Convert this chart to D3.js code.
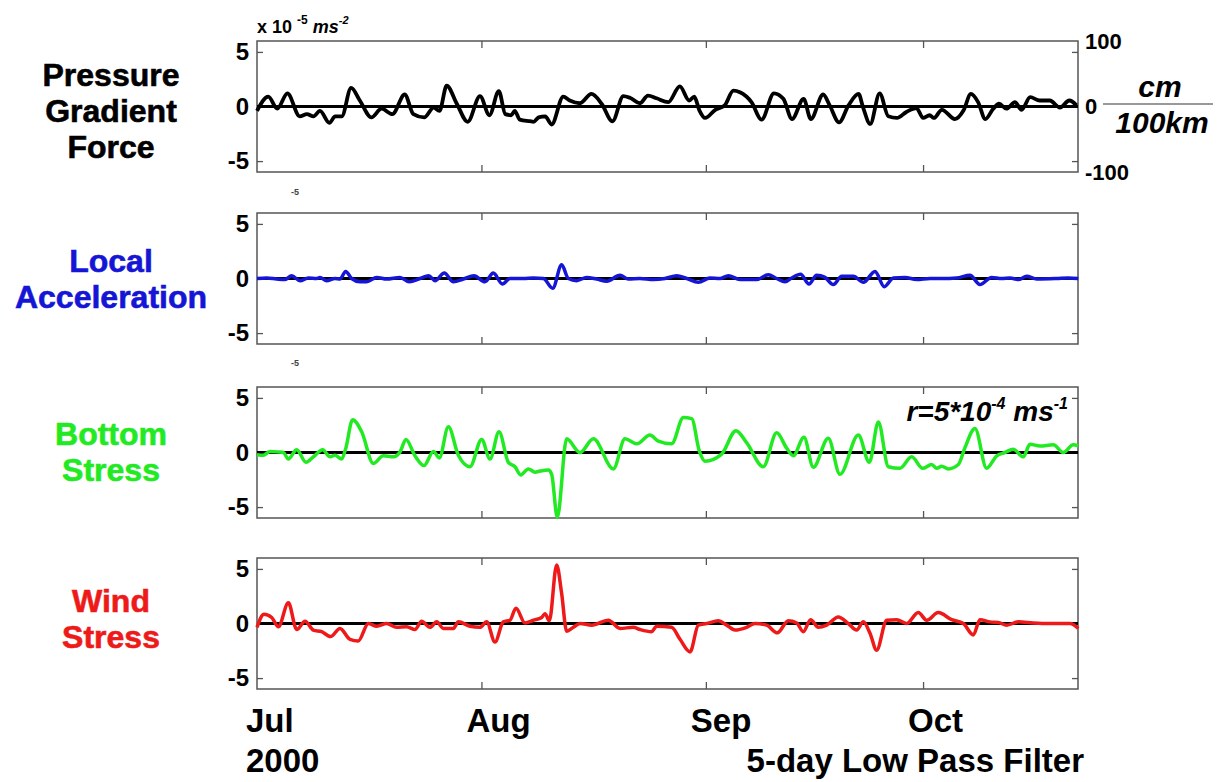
<!DOCTYPE html>
<html>
<head>
<meta charset="utf-8">
<script src="https://cdn.jsdelivr.net/npm/d3@7"></script>
<style>
  body { margin: 0; background: #fff; }
  text { font-family: "Liberation Sans", Arial, sans-serif; font-weight: bold; }
</style>
</head>
<body>
<div id="chart"></div>
<script>
// days since 1 Jul 2000, value in 1e-5 m s^-2
const pressureGradient = [
  [0,-0.4],[1.56,0.9],[2.8,-0.2],[4.2,1.2],[5.9,-0.9],[6.9,-0.7],[7.8,-0.9],[8.7,-0.4],[10.0,-1.5],[10.8,-0.9],
  [11.7,-0.9],[13.0,1.7],[14.2,0.55],[15.8,-1.0],[17.2,-0.2],[18.7,-0.7],[20.4,1.1],[21.6,-0.7],[23.1,-1.0],[24.4,-0.1],
  [25.2,-0.4],[26.2,1.9],[27.6,0.25],[29.1,-1.4],[30.8,0.95],[32.1,-0.8],[33.4,1.4],[34.3,-0.7],[35.1,-0.8],[35.6,-0.4],
  [36.3,-1.2],[37.7,-1.35],[38.2,-1.4],[38.9,-1.0],[39.8,-0.9],[40.7,-1.65],[42.3,0.9],[43.2,0.55],[44.6,0.3],[46.2,1.15],
  [47.6,0.25],[49.1,-1.35],[50.6,0.95],[51.5,0.8],[52.9,0.3],[54.0,1.0],[55.2,0.75],[56.8,0.4],[58.4,1.85],[59.7,0.55],
  [60.4,0.9],[61.1,-0.35],[61.9,-1.05],[63.3,-0.3],[64.6,0.1],[65.8,1.45],[66.7,1.3],[68.3,0.4],[69.7,-1.2],[71.4,1.2],
  [72.7,0.7],[73.9,-1.15],[75.5,0.7],[76.5,-1.15],[78.2,1.1],[79.1,0.1],[80.4,-1.45],[81.7,0.1],[83.1,1.15],[83.7,-0.05],
  [84.7,-1.6],[86.0,1.2],[87.2,-0.9],[88.4,-1.05],[89.7,-0.5],[91.1,-0.15],[92.0,-1.05],[92.9,-0.8],[93.5,-1.05],[94.6,-0.3],
  [96.4,-1.15],[97.6,-0.35],[98.6,1.15],[99.6,0.4],[100.6,-1.15],[101.7,-0.2],[102.5,0.25],[103.5,-0.2],[104.7,0.4],[105.6,-0.3],
  [106.8,0.85],[108.1,0.55],[109.5,0.55],[110.9,-0.1],[112.2,0.55],[113.2,0.1]
];

const localAccel = [
  [0,0],[1.34,0.05],[2.72,-0.05],[3.87,-0.1],[4.79,0.25],[5.94,-0.2],[7.09,0.05],[8.24,0],[8.7,0.1],[9.62,-0.2],
  [10.77,0],[11.46,-0.05],[12.25,0.65],[13.07,0],[14.23,-0.3],[15.15,-0.3],[16.53,0.1],[17.91,-0.05],[19.75,0.1],[21.04,-0.3],
  [22.51,0],[23.71,0.25],[24.59,-0.2],[25.87,0.5],[27.12,-0.3],[28.5,-0.05],[29.97,0.25],[31.49,-0.3],[32.64,0.5],[33.89,-0.5],
  [34.94,0],[36.79,0],[38.17,0.05],[39.55,0],[40.84,-0.9],[42.08,1.25],[43.0,0],[44.15,-0.2],[45.53,0.1],[46.91,-0.05],
  [48.3,-0.25],[50.14,0.3],[51.29,-0.05],[52.9,0],[54.74,-0.1],[56.35,0],[57.97,0.25],[59.35,0],[60.96,-0.35],[62.57,0.05],
  [63.95,0],[65.1,0.25],[66.71,-0.1],[69.02,-0.1],[70.62,0.35],[71.78,0],[72.93,-0.3],[73.85,0.05],[75.09,0.4],[76.24,-0.5],
  [77.3,0.3],[78.45,0.1],[79.6,-0.55],[80.76,0.2],[82.37,0.2],[83.75,-0.35],[85.36,0.65],[86.65,-0.75],[87.89,0.05],[89.5,0.1],
  [91.12,-0.1],[92.96,0],[94.57,0],[96.64,0.05],[98.48,0.3],[99.86,-0.55],[101.47,0.1],[102.85,0],[104.0,0.05],[105.16,-0.1],
  [106.31,0.2],[107.69,-0.05],[110.45,0],[112.07,0.05],[113.44,0]
];

const bottomStress = [
  [0,-0.2],[0.87,-0.25],[1.8,0.1],[2.95,0.05],[3.64,0],[4.33,-0.6],[5.48,0.25],[6.77,-0.9],[7.78,-0.4],[9.07,0.25],
  [10.08,-0.4],[10.77,-0.25],[11.69,-0.6],[12.25,0.35],[13.21,3.0],[14.46,1.9],[16.07,-1.0],[17.45,-0.3],[18.83,-0.4],[19.75,0.05],
  [20.58,1.2],[21.82,-0.3],[23.07,-1.2],[24.36,0.1],[25.18,-0.5],[26.43,2.35],[27.81,-0.25],[29.42,-1.3],[31.03,1.2],[32.18,-0.6],
  [33.43,1.9],[34.72,-0.9],[35.64,-1.3],[36.42,-2.05],[37.48,-1.5],[38.4,-1.8],[39.09,-1.7],[40.24,-1.6],[40.7,-2.0],[41.48,-5.95],
  [42.77,1.25],[44.61,0],[46.46,1.25],[49.22,-1.5],[50.83,1.25],[52.44,0.8],[54.28,1.6],[55.43,1.05],[57.27,0.8],[58.89,3.2],
  [60.04,3.1],[61.09,0.15],[61.88,-0.8],[64.18,-0.15],[66.16,2.0],[67.63,0.9],[69.93,-1.3],[71.78,1.8],[73.16,0.4],[74.08,-0.3],
  [75.55,1.4],[76.84,-1.35],[78.91,1.3],[80.52,-2.0],[83.06,1.6],[84.58,-0.9],[85.82,2.8],[87.2,-1.3],[88.81,-1.45],[90.43,-0.4],
  [91.94,-1.45],[93.19,-1.1],[93.88,-1.45],[94.57,-1.25],[95.49,-1.5],[96.87,-1.1],[97.79,0.45],[99.17,2.2],[100.78,-1.45],[102.17,-0.3],
  [103.31,0],[104.47,0.3],[105.84,-0.4],[106.77,0.75],[108.15,0.6],[109.99,0.7],[111.37,0],[112.75,0.7],[113.44,0.6]
];

const windStress = [
  [0,-0.35],[0.97,0.85],[2.03,0.55],[2.95,-0.3],[4.33,1.9],[5.48,-0.55],[6.63,0.2],[7.78,-0.6],[8.93,-0.75],[10.17,-1.2],
  [11.46,-0.45],[12.85,-1.45],[13.99,-1.6],[15.38,0],[16.53,-0.25],[17.91,0],[19.29,-0.35],[20.67,-0.3],[21.82,-0.55],[22.74,0.2],
  [23.9,-0.35],[24.82,0.15],[25.74,-0.45],[27.12,-0.45],[27.81,0.15],[29.42,-0.25],[30.8,-0.35],[31.72,0.15],[32.87,-1.7],[34.02,0.15],
  [34.94,0.3],[35.77,1.4],[37.02,0.05],[38.17,0.3],[39.32,0.55],[39.78,0.9],[40.38,0.25],[41.39,5.35],[42.08,2.75],[42.77,-0.7],
  [43.69,-0.35],[44.61,0],[46.22,-0.15],[48.53,0.3],[50.14,-0.45],[51.98,-0.35],[52.9,-0.55],[54.51,-0.75],[55.2,-0.25],[57.27,-0.35],
  [58.43,-1.45],[59.81,-2.6],[60.96,-0.15],[62.11,0],[63.72,0.25],[64.87,-0.15],[66.02,-0.6],[67.63,-0.35],[68.78,0],[70.39,-0.15],
  [71.87,-0.85],[73.39,0.25],[74.54,0.05],[75.46,-0.75],[76.47,0.35],[77.53,-0.35],[78.68,-0.15],[80.29,0.6],[81.67,0],[82.83,-0.6],
  [83.75,0.15],[84.67,-0.9],[85.59,-2.45],[86.97,0.3],[88.35,0.35],[89.73,0],[91.34,1.0],[92.5,0.3],[94.1,1.0],[95.95,0.35],
  [97.56,0],[98.94,-1.05],[99.86,0.35],[101.24,0.15],[102.39,0.1],[103.55,-0.15],[105.16,0.15],[107.23,0.05],[109.53,0],[112.29,0],
  [113.44,-0.45]
];

const seriesList = [pressureGradient, localAccel, bottomStress, windStress];
const seriesNames = [["Pressure", "Gradient", "Force"], ["Local", "Acceleration"], ["Bottom", "Stress"], ["Wind", "Stress"]];
const seriesColors = ["#000000", "#1515d6", "#22ea22", "#ee1a1a"];

const yTicks = [5, 0, -5];
const rightTicks = [100, 0, -100];
const monthNames = ["Jul", "Aug", "Sep", "Oct"];
const monthDays = [0, 31, 62, 92];
const dayEnd = 113.4;

const W = 1220, H = 782;
const left = 257, right = 1078;
const panelTops = [41, 213, 387, 558];
const panelH = 131;
const labelShift = [4, 0, -1, -5];

const svg = d3.select("#chart").append("svg")
  .attr("width", W)
  .attr("height", H);

const x = d3.scaleLinear().domain([0, dayEnd]).range([left, right]);
const plain = d => String(d);   // hyphen minus, like the original

seriesList.forEach((data, i) => {
  const top = panelTops[i];
  const y = d3.scaleLinear().domain([-6, 6]).range([top + panelH, top]);
  const g = svg.append("g");

  // frame
  g.append("rect")
    .attr("x", left).attr("y", top)
    .attr("width", right - left).attr("height", panelH)
    .attr("fill", "none").attr("stroke", "#555").attr("stroke-width", 1.5);

  // left ticks + labels
  g.append("g")
    .attr("transform", `translate(${left},0)`)
    .call(d3.axisLeft(y).tickValues(yTicks).tickSize(-6).tickPadding(8).tickFormat(plain))
    .call(a => a.select(".domain").remove())
    .call(a => a.selectAll("line").attr("stroke", "#555").attr("stroke-width", 1.3))
    .call(a => a.selectAll("text").attr("font-size", 24).attr("fill", "#000")
      .attr("font-family", "Liberation Sans, Arial, sans-serif").attr("font-weight", "bold"));

  // right ticks
  g.append("g")
    .attr("transform", `translate(${right},0)`)
    .call(d3.axisRight(y).tickValues([5, -5]).tickSize(-6).tickFormat(""))
    .call(a => a.select(".domain").remove())
    .call(a => a.selectAll("line").attr("stroke", "#555").attr("stroke-width", 1.3));

  // month ticks top and bottom
  const months = monthDays.slice(1);
  g.append("g")
    .attr("transform", `translate(0,${top + panelH})`)
    .call(d3.axisBottom(x).tickValues(months).tickSize(-7).tickFormat(""))
    .call(a => a.select(".domain").remove())
    .call(a => a.selectAll("line").attr("stroke", "#555").attr("stroke-width", 1.3));
  g.append("g")
    .attr("transform", `translate(0,${top})`)
    .call(d3.axisTop(x).tickValues(months).tickSize(-7).tickFormat(""))
    .call(a => a.select(".domain").remove())
    .call(a => a.selectAll("line").attr("stroke", "#555").attr("stroke-width", 1.3));

  // zero line
  g.append("line")
    .attr("x1", left).attr("x2", right)
    .attr("y1", y(0)).attr("y2", y(0))
    .attr("stroke", "#000").attr("stroke-width", 3.2);

  // series
  const line = d3.line()
    .x(d => x(d[0]))
    .y(d => y(d[1]))
    .curve(d3.curveMonotoneX);
  g.append("path")
    .datum(data)
    .attr("d", line)
    .attr("fill", "none")
    .attr("stroke", seriesColors[i])
    .attr("stroke-width", i === 0 ? 3.8 : 3.5)
    .attr("stroke-linejoin", "round");

  // panel name
  const names = seriesNames[i];
  const t = svg.append("text")
    .attr("text-anchor", "middle")
    .attr("font-size", 32)
    .attr("fill", seriesColors[i])
    .attr("stroke", seriesColors[i])
    .attr("stroke-width", 0.6);
  names.forEach((n, k) => {
    t.append("tspan")
      .attr("x", 111)
      .attr("y", y(0) + labelShift[i] + 11 + (k - (names.length - 1) / 2) * 36)
      .text(n);
  });

  // right axis for first panel (cm / 100km)
  if (i === 0) {
    const yr = d3.scaleLinear().domain([-100, 100]).range([top + panelH, top]);
    svg.append("g")
      .attr("transform", `translate(${right},0)`)
      .call(d3.axisRight(yr).tickValues(rightTicks).tickSize(0).tickPadding(7).tickFormat(plain))
      .call(a => a.select(".domain").remove())
      .call(a => a.selectAll("text").attr("font-size", 22).attr("fill", "#000")
        .attr("font-family", "Liberation Sans, Arial, sans-serif").attr("font-weight", "bold"));
  }
});

// unit label top left
const unit = svg.append("text").attr("x", 257).attr("y", 33).attr("font-size", 18);
unit.append("tspan").text("x 10 ");
unit.append("tspan").attr("font-size", 12).attr("dy", -9).text("-5");
unit.append("tspan").attr("font-style", "italic").attr("dy", 9).text(" ms");
unit.append("tspan").attr("font-size", 11).attr("dy", -9).attr("font-style", "italic").text("-2");

// tiny stray exponents
[195, 366].forEach(yy => {
  svg.append("text").attr("x", 291).attr("y", yy).attr("font-size", 9)
    .attr("font-weight", "normal").attr("fill", "#444").text("-5");
});

// cm / 100km
svg.append("text").attr("x", 1160).attr("y", 97).attr("text-anchor", "middle")
  .attr("font-size", 30).attr("font-style", "italic").text("cm");
svg.append("line").attr("x1", 1103).attr("x2", 1213).attr("y1", 104).attr("y2", 104)
  .attr("stroke", "#777").attr("stroke-width", 1.5);
svg.append("text").attr("x", 1162).attr("y", 133).attr("text-anchor", "middle")
  .attr("font-size", 30).attr("font-style", "italic").text("100km");

// friction coefficient label
const rl = svg.append("text").attr("x", 1068).attr("y", 421).attr("text-anchor", "end")
  .attr("font-size", 28).attr("font-style", "italic");
rl.append("tspan").text("r=5*10");
rl.append("tspan").attr("font-size", 16).attr("dy", -12).text("-4");
rl.append("tspan").attr("dy", 12).text(" ms");
rl.append("tspan").attr("font-size", 16).attr("dy", -12).text("-1");

// month labels
monthNames.forEach((m, k) => {
  svg.append("text").attr("x", Math.max(246, x(monthDays[k]) - 15)).attr("y", 732)
    .attr("font-size", 33).text(m);
});
svg.append("text").attr("x", 246).attr("y", 772).attr("font-size", 33).text("2000");
svg.append("text").attr("x", 1084).attr("y", 772).attr("text-anchor", "end")
  .attr("font-size", 33).text("5-day Low Pass Filter");
</script>
</body>
</html>
